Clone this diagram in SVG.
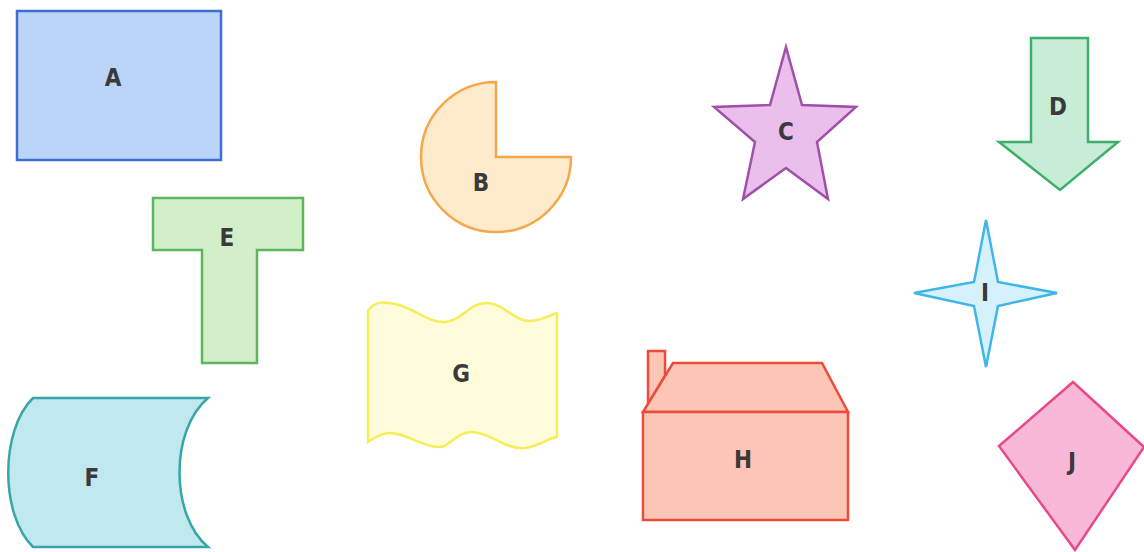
<svg xmlns="http://www.w3.org/2000/svg" width="1144" height="552" viewBox="0 0 1144 552">
<style>
.lbl{font-family:"DejaVu Sans Condensed",Roboto,"Liberation Sans",sans-serif;font-size:24px;font-weight:bold;fill:#3a3a3a;text-anchor:middle;dominant-baseline:central}
.s{stroke-width:2.5;stroke-linejoin:miter}
</style>
<rect width="1144" height="552" fill="#ffffff"/>
<g id="A"><rect class="s" x="17" y="11" width="204" height="149" fill="#bad5f7" stroke="#3d6fcf"/><text class="lbl" x="113" y="78">A</text></g>
<g id="B"><path class="s" d="M496,157 L496,82 A75,75 0 1,0 571,157 Z" fill="#fdebcc" stroke="#f5a74c"/><text class="lbl" x="481" y="183">B</text></g>
<g id="C"><polygon class="s" points="786,47 802,105 856,107 817,142 828,199 786,168 743,199 755,142 714,107 770,105" fill="#eabfeb" stroke="#a24fab"/><text class="lbl" x="786" y="132">C</text></g>
<g id="D"><polygon class="s" points="1031,38 1088,38 1088,142 1118,142 1060,190 999,142 1031,142" fill="#c7edd7" stroke="#3fae6a"/><text class="lbl" x="1058" y="107">D</text></g>
<g id="E"><polygon class="s" points="153,198 303,198 303,250 257,250 257,363 202,363 202,250 153,250" fill="#d2efca" stroke="#5cb65c"/><text class="lbl" x="227" y="238">E</text></g>
<g id="I"><polygon class="s" points="986,220 998,282 1057,293 998,306 986,367 974,306 914,293 974,282" fill="#d5f1fb" stroke="#3fb5e8"/><text class="lbl" x="985" y="293">I</text></g>
<g id="F"><path class="s" d="M33,398 L208,398 C170,430 170,515 208,547 L33,547 C0,515 0,430 33,398 Z" fill="#c0e9ef" stroke="#38a5a7"/><text class="lbl" x="92" y="478">F</text></g>
<g id="G"><path class="s" d="M368,311 C375,300 385,302 395,304 C415,308 428,323 445,322 C462,321 470,302 487,303 C505,304 515,322 530,321 C543,320 550,315 557,313 L557,437 C548,438 540,446 525,448 C505,450 490,432 472,432 C455,432 450,448 438,447 C420,446 405,432 388,433 C378,434 372,440 368,442 Z" fill="#fffcdc" stroke="#f6ee58"/><text class="lbl" x="461" y="374">G</text></g>
<g id="H"><polygon class="s" points="648,404 648,351 665,351 665,376" fill="#fcc6b6" stroke="#ef4b3b"/><polygon class="s" points="643,412 673,363 822,363 848,412" fill="#fcc6b6" stroke="#ef4b3b"/><rect class="s" x="643" y="412" width="205" height="108" fill="#fcc6b6" stroke="#ef4b3b"/><text class="lbl" x="743" y="460">H</text></g>
<g id="J"><polygon class="s" points="1073,382 1144,447 1075,550 999,446" fill="#f9b8d7" stroke="#e8498b"/><text class="lbl" x="1072" y="462">J</text></g>
<g id="connectors"></g>
</svg>
